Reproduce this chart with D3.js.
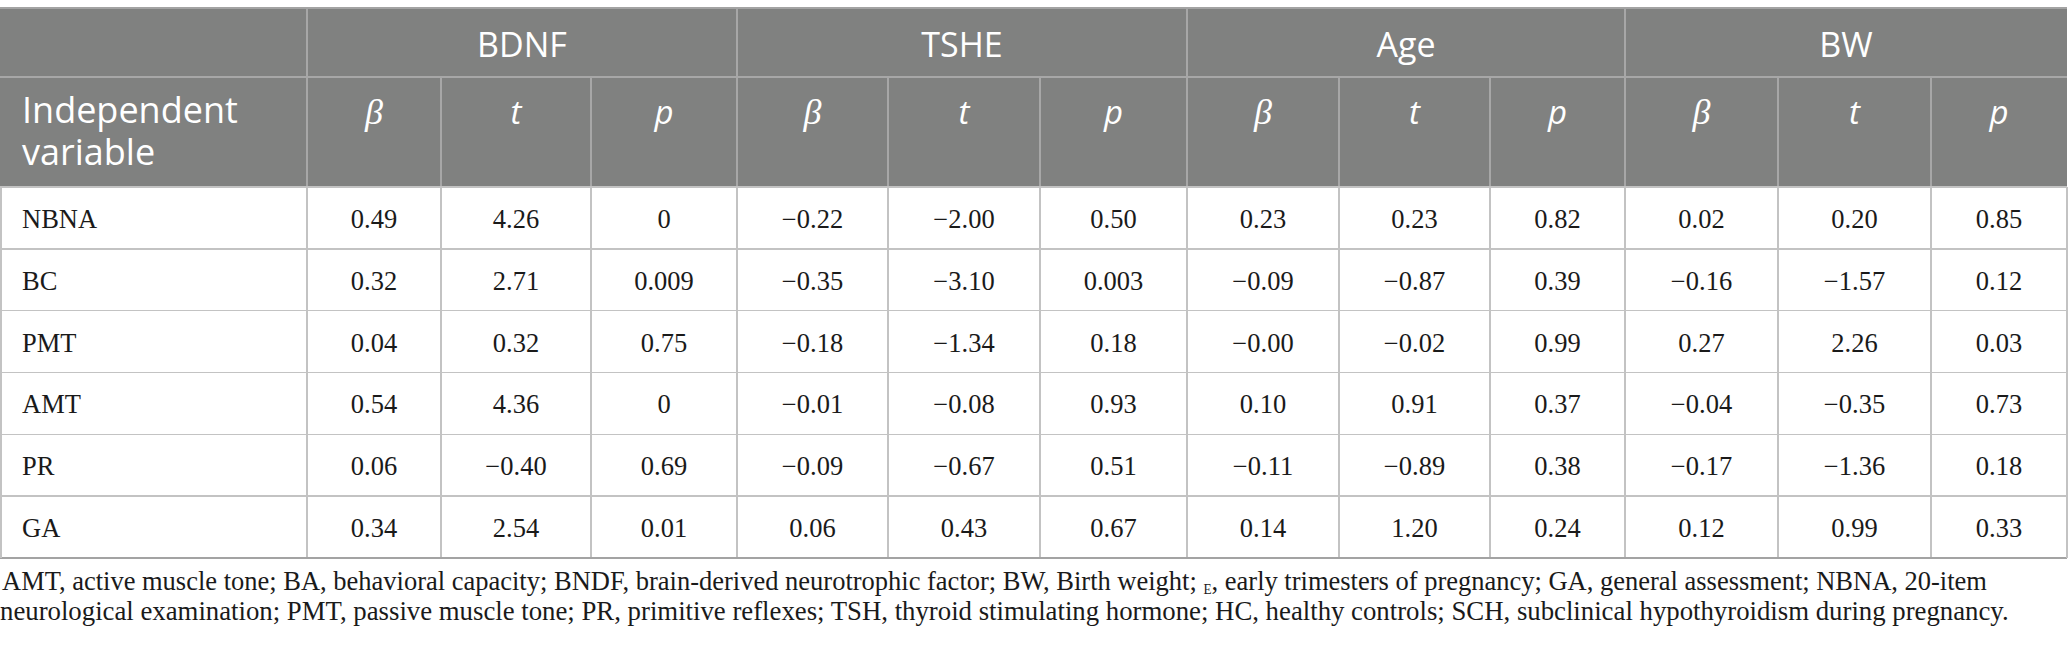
<!DOCTYPE html>
<html>
<head>
<meta charset="utf-8">
<script src="https://cdn.jsdelivr.net/npm/d3@7"></script>
<style>
  body { margin: 0; background: #fff; }
  svg { display: block; }
</style>
</head>
<body>
<div id="chart"></div>
<script>
/* Regression table: BDNF / TSHE / Age / BW vs NBNA items */

const rowLabels = ['NBNA', 'BC', 'PMT', 'AMT', 'PR', 'GA'];
const groupNames = ['BDNF', 'TSHE', 'Age', 'BW'];
const statNames = ['β', 't', 'p'];

// values kept as printed (minus sign U+2212, trailing zeros)
const bdnfBeta = ['0.49', '0.32', '0.04', '0.54', '0.06', '0.34'];
const bdnfT    = ['4.26', '2.71', '0.32', '4.36', '−0.40', '2.54'];
const bdnfP    = ['0', '0.009', '0.75', '0', '0.69', '0.01'];

const tsheBeta = ['−0.22', '−0.35', '−0.18', '−0.01', '−0.09', '0.06'];
const tsheT    = ['−2.00', '−3.10', '−1.34', '−0.08', '−0.67', '0.43'];
const tsheP    = ['0.50', '0.003', '0.18', '0.93', '0.51', '0.67'];

const ageBeta  = ['0.23', '−0.09', '−0.00', '0.10', '−0.11', '0.14'];
const ageT     = ['0.23', '−0.87', '−0.02', '0.91', '−0.89', '1.20'];
const ageP     = ['0.82', '0.39', '0.99', '0.37', '0.38', '0.24'];

const bwBeta   = ['0.02', '−0.16', '0.27', '−0.04', '−0.17', '0.12'];
const bwT      = ['0.20', '−1.57', '2.26', '−0.35', '−1.36', '0.99'];
const bwP      = ['0.85', '0.12', '0.03', '0.73', '0.18', '0.33'];

const firstHeader = ['Independent', 'variable'];
const footLine1a = 'AMT, active muscle tone; BA, behavioral capacity; BNDF, brain-derived neurotrophic factor; BW, Birth weight; ';
const footSub = 'E';
const footLine1b = ', early trimesters of pregnancy; GA, general assessment; NBNA, 20-item';
const footLine2 = 'neurological examination; PMT, passive muscle tone; PR, primitive reflexes; TSH, thyroid stimulating hormone; HC, healthy controls; SCH, subclinical hypothyroidism during pregnancy.';

// ---- Layout ----
const W = 2068, H = 652;
const tableTop = 8, head1 = 77, head2 = 187, tableBottom = 558;
const colEdges = [0, 307, 441, 591, 737, 888, 1040, 1187, 1339, 1490, 1625, 1778, 1931, 2067];

const headBg = '#808180';
const headLine = '#a7a7a7';
const gridLine = '#c3c3c3';
const outerLine = '#a3a3a3';
const sans = '"Open Sans", "Noto Sans", sans-serif';
const serif = '"Liberation Serif", "DejaVu Serif", serif';

const series = {
  BDNF: [bdnfBeta, bdnfT, bdnfP],
  TSHE: [tsheBeta, tsheT, tsheP],
  Age:  [ageBeta, ageT, ageP],
  BW:   [bwBeta, bwT, bwP]
};

const colKeys = ['label'];
groupNames.forEach(g => statNames.forEach(s => colKeys.push(`${g}|${s}`)));

const xLeft = d3.scaleOrdinal().domain(colKeys).range(colEdges.slice(0, -1));
const xRight = d3.scaleOrdinal().domain(colKeys).range(colEdges.slice(1));
const xMid = k => (xLeft(k) + xRight(k)) / 2;

const y = d3.scaleBand().domain(rowLabels).range([head2, tableBottom]).padding(0);

const svg = d3.select('#chart').append('svg')
  .attr('width', W).attr('height', H)
  .attr('viewBox', `0 0 ${W} ${H}`);

const tableRight = colEdges[colEdges.length - 1];

// ---- Header background ----
svg.append('rect')
  .attr('x', 0).attr('y', tableTop)
  .attr('width', tableRight).attr('height', head2 - tableTop)
  .attr('fill', headBg);

// ---- Grid lines ----
const lines = svg.append('g').attr('shape-rendering', 'crispEdges');

// header separators
lines.append('line')
  .attr('x1', 0).attr('x2', tableRight).attr('y1', head1).attr('y2', head1)
  .attr('stroke', headLine).attr('stroke-width', 1.5);

groupNames.forEach(g => {
  const x0 = xLeft(`${g}|${statNames[0]}`);
  lines.append('line')
    .attr('x1', x0).attr('x2', x0).attr('y1', tableTop).attr('y2', head2)
    .attr('stroke', headLine).attr('stroke-width', 1.5);
  statNames.slice(1).forEach(s => {
    const xs = xLeft(`${g}|${s}`);
    lines.append('line')
      .attr('x1', xs).attr('x2', xs).attr('y1', head1).attr('y2', head2)
      .attr('stroke', headLine).attr('stroke-width', 1.5);
  });
});

// body grid
lines.selectAll('.vline').data(colKeys.slice(1)).join('line')
  .attr('x1', d => xLeft(d)).attr('x2', d => xLeft(d))
  .attr('y1', head2).attr('y2', tableBottom)
  .attr('stroke', gridLine).attr('stroke-width', 1.5);

lines.selectAll('.hline').data(rowLabels.slice(1)).join('line')
  .attr('x1', 0).attr('x2', tableRight)
  .attr('y1', d => y(d)).attr('y2', d => y(d))
  .attr('stroke', gridLine).attr('stroke-width', 1.5);

// outer frame
lines.append('line').attr('x1', 0).attr('x2', tableRight).attr('y1', tableTop).attr('y2', tableTop)
  .attr('stroke', outerLine).attr('stroke-width', 2);
lines.append('line').attr('x1', 0).attr('x2', tableRight).attr('y1', head2).attr('y2', head2)
  .attr('stroke', gridLine).attr('stroke-width', 2);
lines.append('line').attr('x1', 0).attr('x2', tableRight).attr('y1', tableBottom).attr('y2', tableBottom)
  .attr('stroke', outerLine).attr('stroke-width', 2.5);
lines.append('line').attr('x1', 1).attr('x2', 1).attr('y1', head2).attr('y2', tableBottom)
  .attr('stroke', gridLine).attr('stroke-width', 1.5);
lines.append('line').attr('x1', tableRight).attr('x2', tableRight).attr('y1', head2).attr('y2', tableBottom)
  .attr('stroke', gridLine).attr('stroke-width', 1.5);

// ---- Header text ----
const headText = svg.append('g').attr('fill', '#fff');

headText.selectAll('.grp').data(groupNames).join('text')
  .attr('x', g => (xLeft(`${g}|${statNames[0]}`) + xRight(`${g}|${statNames[2]}`)) / 2)
  .attr('y', 57)
  .attr('text-anchor', 'middle')
  .attr('font-family', sans)
  .attr('font-size', 34)
  .text(g => g);

// two-line label in one text element
headText.append('text')
  .attr('font-family', sans)
  .attr('font-size', 36)
  .selectAll('tspan').data(firstHeader).join('tspan')
  .attr('x', 22)
  .attr('y', (d, i) => 123 + i * 42)
  .text(d => d);

headText.selectAll('.stat').data(colKeys.slice(1)).join('text')
  .attr('x', k => xMid(k))
  .attr('y', 124)
  .attr('text-anchor', 'middle')
  .attr('font-family', k => k.endsWith('β') ? serif : sans)
  .attr('font-style', 'italic')
  .attr('font-size', k => k.endsWith('β') ? 36 : 33)
  .text(k => k.split('|')[1]);

// ---- Body text ----
const body = svg.append('g')
  .attr('font-family', serif)
  .attr('font-size', 26.5)
  .attr('fill', '#1a1a1a');

const baseOff = y.bandwidth() / 2 + 10;

body.selectAll('.rowlab').data(rowLabels).join('text')
  .attr('x', 22)
  .attr('y', r => y(r) + baseOff)
  .text(r => r);

const cells = [];
groupNames.forEach(g => statNames.forEach((s, si) => {
  rowLabels.forEach((r, ri) => cells.push({ key: `${g}|${s}`, row: r, value: series[g][si][ri] }));
}));

body.selectAll('.cell').data(cells).join('text')
  .attr('x', d => xMid(d.key))
  .attr('y', d => y(d.row) + baseOff)
  .attr('text-anchor', 'middle')
  .text(d => d.value);

// ---- Footnote ----
// the source serif is taller and narrower than Times, so each line is
// set a little larger and squeezed to the width it takes in the source
const footSize = 27.5;
const foot = svg.append('g')
  .attr('font-family', serif)
  .attr('font-size', footSize)
  .attr('fill', '#1a1a1a');

function fitLine(sel, x0, y0, targetW) {
  const w = sel.node().getComputedTextLength();
  sel.attr('transform', `translate(${x0},${y0}) scale(${targetW / w},1)`);
}

const l1 = foot.append('text');
l1.append('tspan').text(footLine1a);
l1.append('tspan').attr('font-size', footSize * 0.5).attr('dy', 4).text(footSub);
l1.append('tspan').attr('dy', -4).text(footLine1b);
fitLine(l1, 2, 590, 1985);

const l2 = foot.append('text').text(footLine2);
fitLine(l2, 0, 620, 2010);
</script>
</body>
</html>
